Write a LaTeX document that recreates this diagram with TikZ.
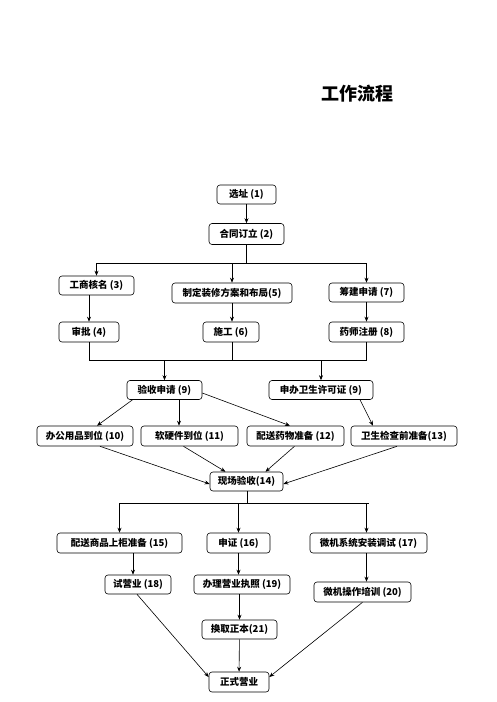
\documentclass[tikz,border=0pt]{standalone}
\usepackage{fontspec}
\setmainfont{Noto Sans CJK SC}
\usetikzlibrary{arrows.meta}
\begin{document}
\begin{tikzpicture}[x=1pt,y=-1pt,
  box/.style={draw, rounded corners=3pt, minimum height=19pt, inner sep=0pt, line width=0.6pt,
    font=\bfseries\fontsize{9.5}{11}\selectfont},
  arr/.style={-{Stealth[length=5pt,width=4pt]}, line width=0.6pt},
  ln/.style={line width=0.6pt}]
\fill[white] (0,0) rectangle (496,702);
\useasboundingbox (0,0) rectangle (496,702);
\node[font=\bfseries\fontsize{18}{20}\selectfont] (title) at (357.5,94) {工作流程};
% row 1-2
\node[box, minimum width=59pt] (n1) at (246.5,194.5) {选址 (1)};
\node[box, minimum width=75pt, minimum height=21pt] (n2) at (246.5,234) {合同订立 (2)};
% row 3
\node[box, minimum width=75pt] (n3) at (96.5,285.5) {工商核名 (3)};
\node[box, minimum width=120pt, minimum height=20pt] (n5) at (232,293) {制定装修方案和布局(5)};
\node[box, minimum width=75pt] (n7) at (366.5,292.5) {筹建申请 (7)};
% row 4
\node[box, minimum width=60pt, minimum height=20pt] (n4) at (89,332) {审批 (4)};
\node[box, minimum width=56pt, minimum height=20pt] (n6) at (231,332) {施工 (6)};
\node[box, minimum width=75pt, minimum height=20pt] (n8) at (366.5,332) {药师注册 (8)};
% row 5
\node[box, minimum width=75pt] (n9a) at (164.5,390) {验收申请 (9)};
\node[box, minimum width=104pt] (n9b) at (321,390) {申办卫生许可证 (9)};
% row 6
\node[box, minimum width=96pt, minimum height=20pt] (n10) at (85,436) {办公用品到位 (10)};
\node[box, minimum width=97pt, minimum height=20pt] (n11) at (189.5,436) {软硬件到位 (11)};
\node[box, minimum width=97pt, minimum height=20pt] (n12) at (295.5,436) {配送药物准备 (12)};
\node[box, minimum width=106pt, minimum height=20pt] (n13) at (404,436) {卫生检查前准备(13)};
% row 7
\node[box, minimum width=73pt] (n14) at (246.5,481.5) {现场验收(14)};
% row 8
\node[box, minimum width=125pt, minimum height=20pt] (n15) at (119.5,543) {配送商品上柜准备 (15)};
\node[box, minimum width=63pt, minimum height=20pt] (n16) at (238.5,543) {申证 (16)};
\node[box, minimum width=117pt, minimum height=20pt] (n17) at (368.5,543) {微机系统安装调试 (17)};
% row 9
\node[box, minimum width=66pt] (n18) at (138,584.5) {试营业 (18)};
\node[box, minimum width=96pt] (n19) at (242,584.5) {办理营业执照 (19)};
\node[box, minimum width=97pt, minimum height=20pt] (n20) at (362.5,592) {微机操作培训 (20)};
% row 10-11
\node[box, minimum width=75pt] (n21) at (239.5,629.5) {换取正本(21)};
\node[box, minimum width=60pt, minimum height=20pt] (n22) at (239,682) {正式营业};
% junction coordinates
\coordinate (h1) at (246.5,263);
\coordinate (h2) at (89,360);
\coordinate (h3) at (247,503);
% connectors
\draw[arr] (n1) -- (n2);
\draw[ln] (n2) -- (h1);
\draw[ln] (n3 |- h1) -- (n7 |- h1);
\draw[arr] (n3 |- h1) -- (n3);
\draw[arr] (n5 |- h1) -- (n5);
\draw[arr] (n7 |- h1) -- (n7);
\draw[arr] (n4 |- n3.south) -- (n4);
\draw[arr] (n5) -- (n5 |- n6.north);
\draw[arr] (n7) -- (n8);
\draw[ln] (n4) -- (h2);
\draw[ln] (n5 |- n6.south) -- (n5 |- h2);
\draw[ln] (n8) -- (n8 |- h2);
\draw[ln] (h2) -- (n8 |- h2);
\draw[arr] (n9a |- h2) -- (n9a);
\draw[arr] (n9b |- h2) -- (n9b);
\draw[arr] ([xshift=-32pt]n9a.south) -- ([xshift=12pt]n10.north);
\draw[arr] ([xshift=14.5pt]n9a.south) -- ([xshift=-10.5pt]n11.north);
\draw[arr] ([yshift=-3pt]n9a.east) -- ([xshift=-5.5pt]n12.north);
\draw[arr] ([xshift=39pt]n9b.south) -- ([xshift=-31pt]n13.north);
\draw[arr] ([xshift=15pt]n10.south) -- ([yshift=-2.5pt]n14.west);
\draw[arr] ([xshift=-6pt]n11.south) -- ([xshift=-21pt]n14.north);
\draw[arr] ([xshift=-1pt]n12.south) -- ([xshift=19pt]n14.north);
\draw[arr] ([xshift=-7pt]n13.south) -- ([yshift=-2.5pt]n14.east);
\draw[ln] (n14.south -| h3) -- (h3);
\draw[ln] (n15 |- h3) -- (n17.north |- h3);
\draw[arr] (n15 |- h3) -- (n15);
\draw[arr] (n16 |- h3) -- (n16);
\draw[arr] ([xshift=-2pt]n17.north |- h3) -- ([xshift=-2pt]n17.north);
\draw[arr] ([xshift=-5pt]n18.north |- n15.south) -- ([xshift=-5pt]n18.north);
\draw[arr] (n16) -- (n16 |- n19.north);
\draw[arr] ([xshift=-2pt]n17.south) -- ([xshift=-2pt]n17.south |- n20.north);
\draw[arr] (n21 |- n19.south) -- (n21);
\draw[arr] (n21) -- (n22);
\draw[arr] ([xshift=-1pt]n18.south) -- ([yshift=5pt]n22.west);
\draw[arr] (n20.south) -- ([yshift=5pt]n22.east);
\end{tikzpicture}
\end{document}
